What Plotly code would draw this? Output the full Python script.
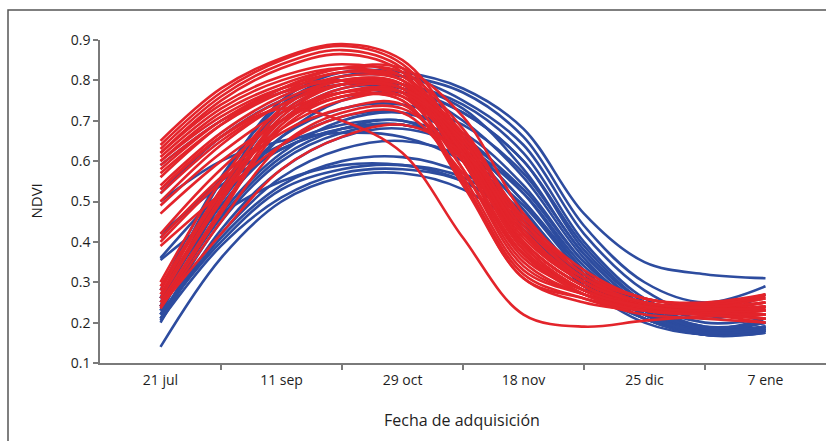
import plotly.graph_objects as go

# x positions (0 = first category, 5 = last category)
positions = [0, 0.5, 1, 1.5, 2, 2.5, 3, 3.5, 4, 4.5, 5]
tick_labels = ["21 jul", "11 sep", "29 oct", "18 nov", "25 dic", "7 ene"]
tick_positions = [0, 1, 2, 3, 4, 5]

blue_series = [
    [0.26, 0.55, 0.75, 0.82, 0.82, 0.78, 0.68, 0.47, 0.35, 0.32, 0.31],
    [0.28, 0.56, 0.74, 0.81, 0.81, 0.77, 0.66, 0.44, 0.30, 0.25, 0.29],
    [0.24, 0.53, 0.73, 0.81, 0.81, 0.75, 0.64, 0.42, 0.28, 0.22, 0.27],
    [0.24, 0.52, 0.72, 0.79, 0.79, 0.74, 0.62, 0.40, 0.26, 0.21, 0.24],
    [0.22, 0.50, 0.70, 0.78, 0.78, 0.72, 0.60, 0.38, 0.25, 0.20, 0.21],
    [0.59, 0.70, 0.77, 0.80, 0.79, 0.73, 0.58, 0.37, 0.24, 0.19, 0.20],
    [0.52, 0.66, 0.75, 0.79, 0.78, 0.70, 0.56, 0.36, 0.23, 0.185, 0.19],
    [0.36, 0.52, 0.63, 0.68, 0.69, 0.64, 0.50, 0.33, 0.22, 0.18, 0.185],
    [0.21, 0.45, 0.60, 0.67, 0.69, 0.64, 0.50, 0.32, 0.22, 0.175, 0.18],
    [0.20, 0.43, 0.58, 0.66, 0.68, 0.63, 0.48, 0.30, 0.21, 0.17, 0.185],
    [0.23, 0.46, 0.61, 0.68, 0.70, 0.62, 0.46, 0.29, 0.21, 0.175, 0.19],
    [0.42, 0.54, 0.63, 0.68, 0.69, 0.64, 0.52, 0.34, 0.23, 0.18, 0.20],
    [0.50, 0.60, 0.65, 0.67, 0.66, 0.60, 0.47, 0.31, 0.22, 0.18, 0.19],
    [0.24, 0.47, 0.62, 0.70, 0.72, 0.67, 0.54, 0.35, 0.23, 0.17, 0.175],
    [0.26, 0.50, 0.66, 0.73, 0.74, 0.69, 0.57, 0.37, 0.24, 0.175, 0.18],
    [0.14, 0.36, 0.50, 0.56, 0.57, 0.53, 0.43, 0.29, 0.20, 0.17, 0.18],
    [0.205, 0.39, 0.51, 0.57, 0.58, 0.55, 0.45, 0.30, 0.21, 0.17, 0.175],
    [0.22, 0.40, 0.53, 0.58, 0.59, 0.56, 0.46, 0.31, 0.21, 0.175, 0.185],
    [0.21, 0.41, 0.54, 0.60, 0.61, 0.57, 0.47, 0.31, 0.22, 0.18, 0.19],
    [0.355, 0.47, 0.55, 0.59, 0.59, 0.55, 0.44, 0.29, 0.21, 0.17, 0.18],
    [0.23, 0.48, 0.66, 0.75, 0.77, 0.72, 0.60, 0.39, 0.25, 0.19, 0.20],
    [0.25, 0.49, 0.64, 0.71, 0.72, 0.66, 0.52, 0.33, 0.22, 0.17, 0.18],
    [0.22, 0.42, 0.56, 0.63, 0.65, 0.61, 0.49, 0.32, 0.22, 0.175, 0.185],
    [0.41, 0.55, 0.64, 0.69, 0.70, 0.65, 0.53, 0.35, 0.24, 0.185, 0.21],
]

red_series = [
    [0.65, 0.78, 0.855, 0.89, 0.85, 0.66, 0.42, 0.30, 0.25, 0.23, 0.24],
    [0.64, 0.77, 0.85, 0.885, 0.84, 0.64, 0.40, 0.29, 0.245, 0.23, 0.235],
    [0.63, 0.76, 0.84, 0.875, 0.83, 0.62, 0.38, 0.28, 0.24, 0.225, 0.23],
    [0.62, 0.75, 0.83, 0.865, 0.82, 0.60, 0.36, 0.28, 0.24, 0.225, 0.22],
    [0.60, 0.72, 0.79, 0.83, 0.82, 0.68, 0.45, 0.31, 0.25, 0.235, 0.25],
    [0.58, 0.70, 0.78, 0.82, 0.81, 0.66, 0.43, 0.30, 0.25, 0.24, 0.26],
    [0.57, 0.69, 0.77, 0.82, 0.80, 0.63, 0.40, 0.29, 0.24, 0.23, 0.24],
    [0.54, 0.67, 0.76, 0.81, 0.80, 0.65, 0.42, 0.30, 0.245, 0.23, 0.22],
    [0.53, 0.66, 0.75, 0.80, 0.79, 0.58, 0.34, 0.27, 0.235, 0.22, 0.21],
    [0.50, 0.64, 0.74, 0.79, 0.78, 0.60, 0.37, 0.27, 0.23, 0.225, 0.23],
    [0.49, 0.62, 0.72, 0.77, 0.76, 0.58, 0.35, 0.27, 0.235, 0.23, 0.25],
    [0.47, 0.60, 0.70, 0.76, 0.75, 0.55, 0.32, 0.26, 0.22, 0.21, 0.20],
    [0.62, 0.74, 0.81, 0.84, 0.81, 0.64, 0.41, 0.30, 0.25, 0.24, 0.26],
    [0.60, 0.71, 0.78, 0.80, 0.77, 0.62, 0.42, 0.31, 0.26, 0.245, 0.27],
    [0.42, 0.58, 0.70, 0.76, 0.77, 0.63, 0.40, 0.29, 0.24, 0.23, 0.22],
    [0.41, 0.56, 0.68, 0.75, 0.76, 0.61, 0.39, 0.28, 0.23, 0.22, 0.23],
    [0.40, 0.55, 0.67, 0.73, 0.74, 0.56, 0.33, 0.27, 0.235, 0.225, 0.21],
    [0.39, 0.52, 0.64, 0.71, 0.72, 0.57, 0.37, 0.28, 0.24, 0.23, 0.24],
    [0.30, 0.55, 0.73, 0.80, 0.79, 0.63, 0.40, 0.29, 0.24, 0.23, 0.23],
    [0.29, 0.53, 0.72, 0.79, 0.78, 0.60, 0.37, 0.28, 0.235, 0.22, 0.22],
    [0.27, 0.51, 0.71, 0.79, 0.79, 0.64, 0.42, 0.30, 0.25, 0.235, 0.24],
    [0.26, 0.50, 0.70, 0.78, 0.78, 0.62, 0.39, 0.28, 0.24, 0.225, 0.21],
    [0.25, 0.48, 0.69, 0.77, 0.77, 0.55, 0.31, 0.26, 0.23, 0.22, 0.20],
    [0.24, 0.47, 0.68, 0.76, 0.75, 0.54, 0.31, 0.25, 0.23, 0.225, 0.22],
    [0.235, 0.45, 0.64, 0.72, 0.73, 0.60, 0.39, 0.28, 0.24, 0.23, 0.25],
    [0.24, 0.42, 0.58, 0.66, 0.69, 0.62, 0.45, 0.32, 0.26, 0.24, 0.23],
    [0.53, 0.66, 0.73, 0.70, 0.62, 0.41, 0.22, 0.19, 0.205, 0.215, 0.22],
    [0.56, 0.69, 0.78, 0.83, 0.83, 0.71, 0.47, 0.32, 0.26, 0.245, 0.265],
    [0.52, 0.65, 0.74, 0.79, 0.79, 0.67, 0.44, 0.31, 0.25, 0.24, 0.25],
    [0.28, 0.52, 0.70, 0.77, 0.77, 0.65, 0.43, 0.30, 0.25, 0.235, 0.235],
    [0.61, 0.73, 0.80, 0.83, 0.80, 0.62, 0.38, 0.27, 0.23, 0.22, 0.21],
    [0.59, 0.70, 0.77, 0.80, 0.78, 0.66, 0.46, 0.33, 0.26, 0.25, 0.27],
]

BLUE = "#2D4C9F"
RED = "#E3242B"
FONT = "Open Sans"
TXT = "#1e1e1e"

fig = go.Figure()
for ys in blue_series:
    fig.add_trace(go.Scatter(x=positions, y=ys, mode="lines",
                             line=dict(color=BLUE, width=2.6, shape="spline", smoothing=1.0),
                             hoverinfo="skip", showlegend=False))
for ys in red_series:
    fig.add_trace(go.Scatter(x=positions, y=ys, mode="lines",
                             line=dict(color=RED, width=2.6, shape="spline", smoothing=1.0),
                             hoverinfo="skip", showlegend=False))

axis_color = "#7a7a7a"
fig.update_layout(
    width=826, height=441,
    margin=dict(l=100, r=0, t=40, b=78),
    paper_bgcolor="white", plot_bgcolor="white",
    font=dict(family=FONT, size=14, color=TXT),
    showlegend=False,
    xaxis=dict(
        range=[-0.5, 5.5], tickmode="array", tickvals=tick_positions, ticktext=tick_labels,
        ticks="", showgrid=False, zeroline=False, showline=True,
        linecolor=axis_color, linewidth=1.5, ticklabelstandoff=3,
        tickfont=dict(family=FONT, size=14, color=TXT),
        minor=dict(tickmode="array", tickvals=[0.5, 1.5, 2.5, 3.5, 4.5], ticks="outside",
                   ticklen=5, tickcolor=axis_color, tickwidth=1.5, showgrid=False),
    ),
    yaxis=dict(
        range=[0.1, 0.9], tickmode="linear", tick0=0.1, dtick=0.1, tickformat=".1f",
        ticks="outside", ticklen=5, tickcolor=axis_color, tickwidth=1.5,
        showgrid=False, zeroline=False, showline=True,
        linecolor=axis_color, linewidth=1.5,
        tickfont=dict(family=FONT, size=14, color=TXT),
    ),
    annotations=[
        dict(text="NDVI", xref="paper", yref="paper", x=(35 - 100) / 726, y=0.5,
             textangle=-90, showarrow=False, font=dict(family=FONT, size=15, color=TXT),
             xanchor="center", yanchor="middle"),
        dict(text="Fecha de adquisición", xref="paper", yref="paper",
             x=(462 - 100) / 726, y=(363 - 420) / 323, showarrow=False,
             font=dict(family=FONT, size=16, color=TXT),
             xanchor="center", yanchor="middle"),
    ],
    shapes=[
        dict(type="path", xref="paper", yref="paper",
             path="M {x0},{y0} L {x0},{y1} L {x1},{y1}".format(
                 x0=(8 - 100) / 726, y0=(363 - 445) / 323, y1=1 + 30 / 323, x1=1.01),
             line=dict(color="#555555", width=1.5)),
    ],
)

fig.write_html("out.html", config={"displayModeBar": False},
               post_script="document.body.style.margin='0px';document.body.style.overflow='hidden';")
